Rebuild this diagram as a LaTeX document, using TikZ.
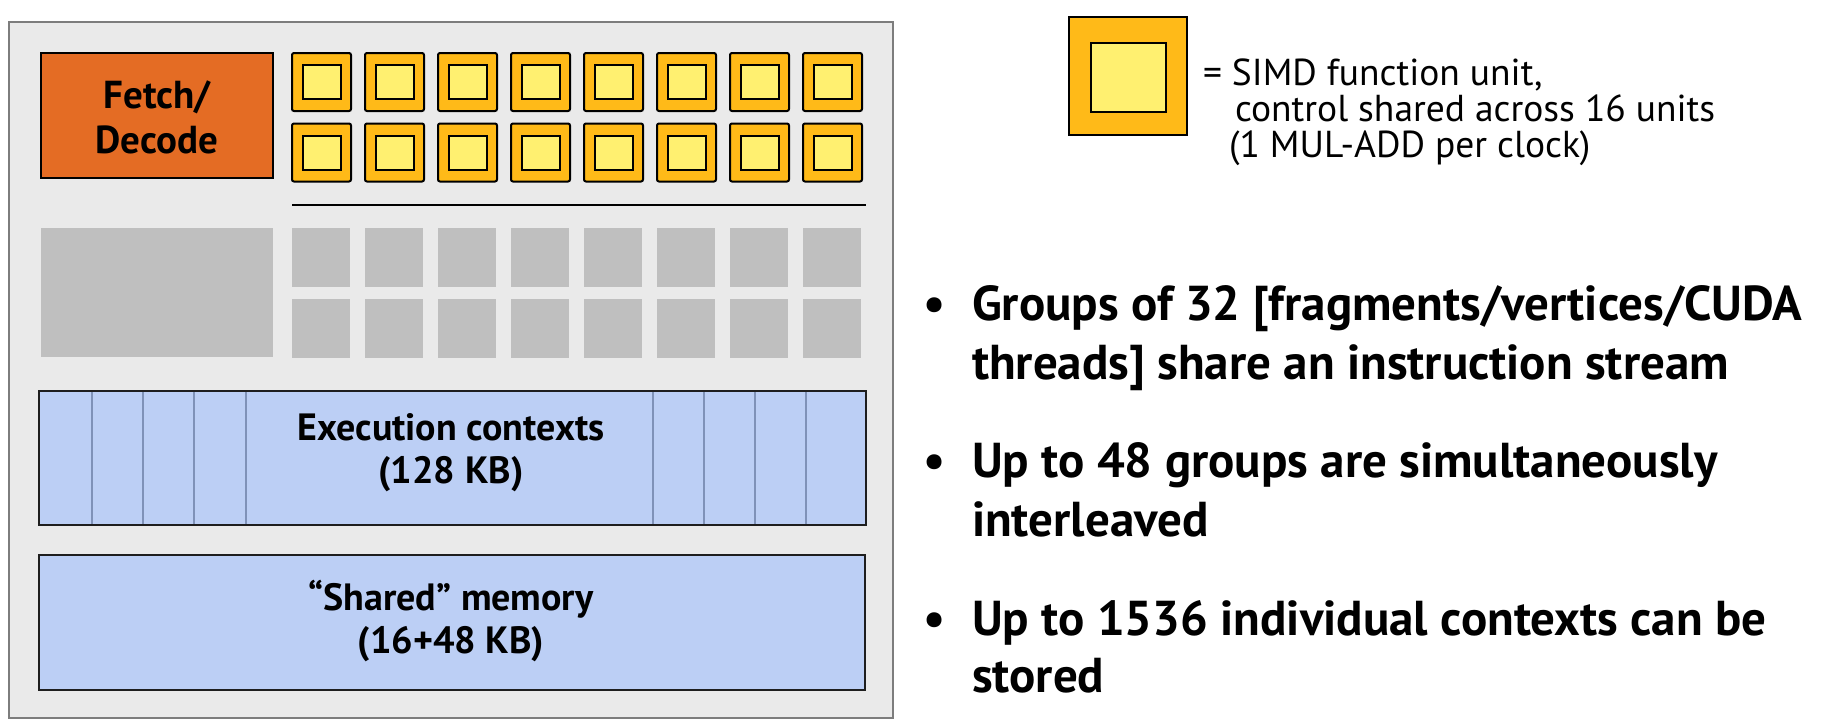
\documentclass[tikz,border=0pt]{standalone}
\usepackage{fontspec}
\setmainfont{PT Sans}
\definecolor{bgchip}{RGB}{234,234,234}
\definecolor{chipedge}{RGB}{125,125,125}
\definecolor{fetchor}{RGB}{228,108,36}
\definecolor{simdout}{RGB}{255,186,24}
\definecolor{simdin}{RGB}{255,240,112}
\definecolor{grayunit}{RGB}{191,191,191}
\definecolor{ctxblue}{RGB}{188,207,245}
\definecolor{ctxline}{RGB}{127,146,184}
\definecolor{boxedge}{RGB}{30,30,30}
\begin{document}
\begin{tikzpicture}[x=1pt,y=-1pt,
  every node/.style={inner sep=0pt,outer sep=0pt},
  chip/.style={draw=chipedge,line width=2pt,fill=bgchip},
  fetchbox/.style={draw=black,line width=2.5pt,fill=fetchor,minimum width=232pt,minimum height=125pt},
  simdouter/.style={draw=black,line width=2pt,fill=simdout,rounded corners=2pt,minimum width=59pt,minimum height=58pt},
  simdinner/.style={draw=black,line width=2pt,fill=simdin,minimum width=38pt,minimum height=34pt},
  grayb/.style={fill=grayunit,minimum width=58pt,minimum height=59pt},
  memb/.style={draw=boxedge,line width=2.5pt,fill=ctxblue},
  divider/.style={draw=ctxline,line width=2.5pt},
  lbl/.style={font=\fontsize{38}{43}\selectfont\bfseries,align=center},
  fetchlbls/.style={font=\fontsize{39}{45}\selectfont\bfseries,align=center},
  legtxt/.style={font=\fontsize{37.5}{36}\selectfont,anchor=base west},
  bultxt/.style={font=\fontsize{49}{60}\selectfont\bfseries,anchor=base west},
  bulmark/.style={font=\fontsize{49}{60}\selectfont\bfseries,anchor=base}
]
\useasboundingbox (0,0) rectangle (1823,726);
% chip outline
\node[chip,minimum width=884pt,minimum height=696pt] (chip) at (451,370) {};
% fetch/decode
\node[fetchbox] (fetch) at (157,115.5) {};
\node[fetchlbls] (fetchlbl) at (157,117) {Fetch/\\Decode};
% SIMD units and gray units
\foreach \i in {0,...,7}{
  \node[simdouter] (sa\i) at (321.5+73*\i,82) {};
  \node[simdinner] (sai\i) at (sa\i.center) {};
  \node[simdouter] (sb\i) at (321.5+73*\i,152.5) {};
  \node[simdinner] (sbi\i) at (sb\i.center) {};
  \node[grayb] (ga\i) at (321+73*\i,257.5) {};
  \node[grayb] (gb\i) at (321+73*\i,328) {};
}
\coordinate (lineL) at (292,205);
\coordinate (lineR) at (866,205);
\draw[line width=2.5pt] (lineL) -- (lineR);
\node[fill=grayunit,minimum width=232pt,minimum height=129pt] (biggray) at (157,292.5) {};
% execution contexts
\node[memb,minimum width=827pt,minimum height=134pt] (exec) at (452.5,458) {};
\foreach \dx in {53,104,155,207,614,665,716,767}{
  \draw[divider] ([xshift=\dx pt,yshift=-1.3pt]exec.north west) -- ([xshift=\dx pt,yshift=1.3pt]exec.south west);
}
\node[lbl] (execlbl) at (451,453) {Execution contexts\\(128 KB)};
% shared memory
\node[memb,minimum width=826pt,minimum height=135pt] (shared) at (452,622.5) {};
\node[lbl] (sharedlbl) at (451,621) {“Shared” memory\\(16+48 KB)};
% legend
\node[draw=black,line width=1.5pt,fill=simdout,minimum width=118pt,minimum height=118pt] (leg) at (1128,76) {};
\node[draw=black,line width=2pt,fill=simdin,minimum width=75pt,minimum height=69pt] (legin) at (1128.5,77.5) {};
\node[legtxt] (leg1) at (1203,85) {= SIMD function unit,};
\node[legtxt] (leg2) at (1235,121) {control shared across 16 units};
\node[legtxt] (leg3) at (1229,157) {(1 MUL-ADD per clock)};
% bullets
\node[bulmark] (m1) at (935,320) {•};
\node[bultxt] (b1a) at (972,320) {Groups of 32 [fragments/vertices/CUDA};
\node[bultxt] (b1b) at (972,379) {threads] share an instruction stream};
\node[bulmark] (m2) at (935,477) {•};
\node[bultxt] (b2a) at (972,477) {Up to 48 groups are simultaneously};
\node[bultxt] (b2b) at (972,536) {interleaved};
\node[bulmark] (m3) at (935,635) {•};
\node[bultxt] (b3a) at (972,635) {Up to 1536 individual contexts can be};
\node[bultxt] (b3b) at (972,692) {stored};
\end{tikzpicture}
\end{document}
